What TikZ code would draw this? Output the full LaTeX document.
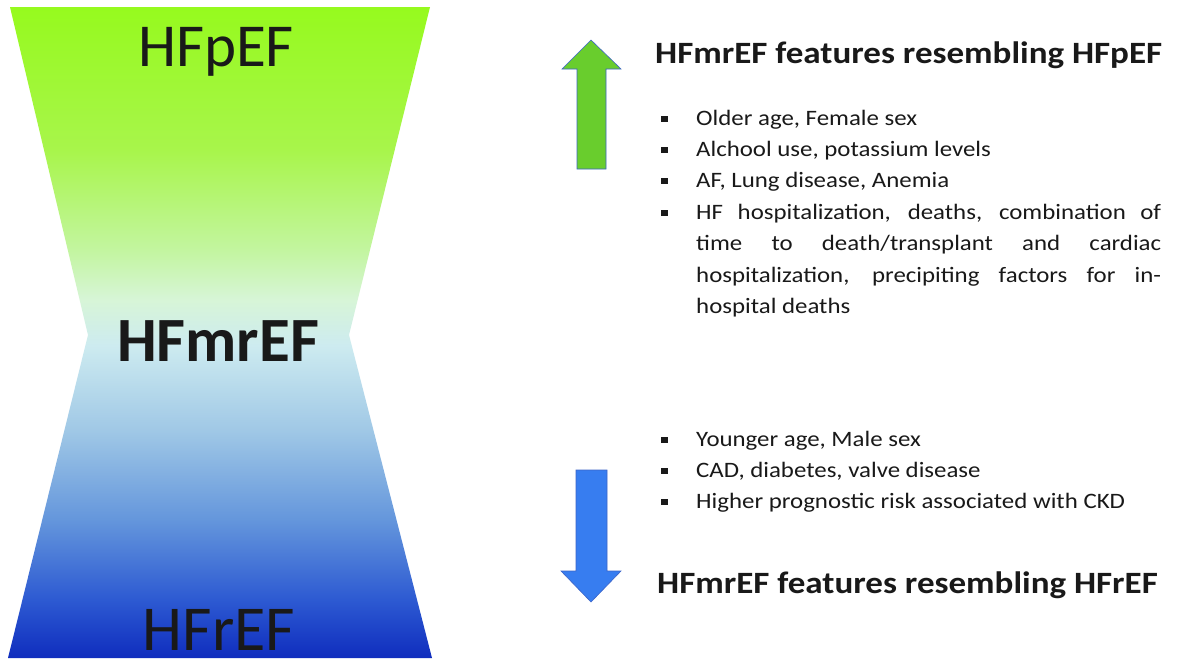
\documentclass[tikz,border=0pt]{standalone}
\usepackage{fontspec}
\setmainfont{Carlito}
\definecolor{cg1}{RGB}{150,250,30}
\definecolor{cg2}{RGB}{168,245,75}
\definecolor{cg3}{RGB}{195,245,160}
\definecolor{cg4}{RGB}{215,245,215}
\definecolor{cm}{RGB}{205,235,240}
\definecolor{cb3}{RGB}{160,200,230}
\definecolor{cb2}{RGB}{100,150,220}
\definecolor{cb1}{RGB}{45,90,210}
\definecolor{cb0}{RGB}{15,45,190}
\definecolor{upgreen}{RGB}{105,205,45}
\definecolor{downblue}{RGB}{55,125,240}
\definecolor{edgeblue}{RGB}{60,100,200}
\definecolor{txt}{RGB}{25,25,25}
\pgfdeclareverticalshading{hg}{100bp}{color(0bp)=(cb0); color(25bp)=(cb0); color(29.5bp)=(cb1); color(35.6bp)=(cb2); color(42.5bp)=(cb3); color(49bp)=(cm); color(52.5bp)=(cg4); color(56.3bp)=(cg3); color(64bp)=(cg2); color(75bp)=(cg1); color(100bp)=(cg1)}
\tikzset{
  biglabel/.style={font=\fontsize{61}{61}\selectfont, text=txt, inner sep=0pt, anchor=base},
  title/.style={font=\fontsize{31}{34}\selectfont\bfseries, text=txt, inner sep=0pt, anchor=base west},
  itemlist/.style={font=\fontsize{22}{31.4}\selectfont, text=txt, inner sep=0pt, anchor=base west},
  arrowshape/.style={draw=edgeblue, line width=0.6pt}
}
\newcommand{\bul}{\makebox[31pt][l]{\raisebox{3.5pt}{\rule{6pt}{6pt}}}}
\newcommand{\justifying}{\rightskip=0pt\leftskip=0pt\parfillskip=0pt plus 1fil\hyphenpenalty=10000}
\newcommand{\itm}[1]{\noindent\bul\parbox[t]{411.5pt}{\justifying #1}\par}
\newcommand{\wide}[1]{\scalebox{1.13}[1]{#1}}
\begin{document}
\begin{tikzpicture}[x=1pt,y=-1pt]
\useasboundingbox (0,0) rectangle (1181,664);
\fill[white] (0,0) rectangle (1181,664);
% hourglass
\shade[shading=hg] (10,7) -- (430,7) -- (349,335) -- (432,658) -- (8,658) -- (88,335) -- cycle;
\node[biglabel] (pef) at (216,66) {HFpEF};
\node[biglabel, font=\fontsize{63}{63}\selectfont\bfseries] (mref) at (218,361) {HFmrEF};
\node[biglabel, font=\fontsize{64}{64}\selectfont] (ref) at (219,650) {HFrEF};
% arrows
\filldraw[arrowshape, fill=upgreen] (591,40) -- (621,69) -- (606,69) -- (606,169) -- (577,169) -- (577,69) -- (562,69) -- cycle;
\filldraw[arrowshape, fill=downblue] (591,602) -- (621,571) -- (607,571) -- (607,470) -- (576,470) -- (576,571) -- (561,571) -- cycle;
% texts
\node[title] (t1) at (655,63) {\wide{HFmrEF features resembling HFpEF}};
\node[itemlist] (l1) at (661,125) {\wide{\parbox[t]{442.5pt}{%
\itm{Older age, Female sex}
\itm{Alchool use, potassium levels}
\itm{AF, Lung disease, Anemia}
\itm{HF hospitalization, deaths, combination of\linebreak time to death/transplant and cardiac\linebreak hospitalization, precipiting factors for in-\linebreak hospital deaths}}}};
\node[itemlist] (l2) at (661,446) {\wide{\parbox[t]{442.5pt}{%
\itm{Younger age, Male sex}
\itm{CAD, diabetes, valve disease}
\itm{Higher prognostic risk associated with CKD}}}};
\node[title] (t2) at (657,593) {\wide{HFmrEF features resembling HFrEF}};
\end{tikzpicture}
\end{document}
